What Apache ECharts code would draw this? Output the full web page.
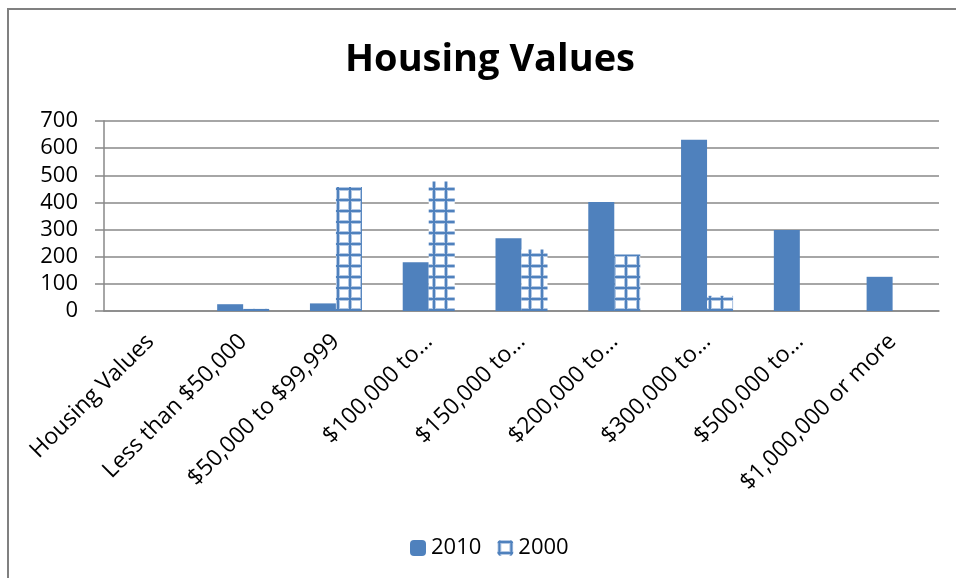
<!DOCTYPE html>
<html>
  <head>
    <meta charset="utf-8" />
    <script src="https://cdn.jsdelivr.net/npm/echarts@6.0.0/dist/echarts.min.js"></script>
  </head>
  <body style="margin: 0">
    <div id="main" style="width: 956px; height: 578px"></div>

    <script type="text/javascript">
      const categories = [
        "Housing Values",
        "Less than $50,000",
        "$50,000 to $99,999",
        "$100,000 to…",
        "$150,000 to…",
        "$200,000 to…",
        "$300,000 to…",
        "$500,000 to…",
        "$1,000,000 or more",
      ];
      const values2010 = [0, 25, 28, 180, 268, 402, 631, 298, 126];
      const values2000 = [0, 8, 457, 477, 227, 208, 56, 0, 0];
      const yTicks = [0, 100, 200, 300, 400, 500, 600, 700];

      const font = "Open Sans";
      const blue = "#4f81bd";

      // grid pattern for the 2000 bars
      function gridPattern() {
        const c = document.createElement("canvas");
        c.width = 12;
        c.height = 11;
        const ctx = c.getContext("2d");
        ctx.fillStyle = "#ffffff";
        ctx.fillRect(0, 0, 12, 11);
        ctx.fillStyle = "#b3c8e4";
        ctx.fillRect(0, 0, 4, 11);
        ctx.fillRect(0, 0, 12, 4);
        ctx.fillStyle = blue;
        ctx.fillRect(1, 0, 2, 11);
        ctx.fillRect(0, 1, 12, 2);
        return c;
      }

      const option = {
        backgroundColor: "#ffffff",
        animation: false,
        title: {
          text: "Housing Values",
          left: 485,
          textAlign: "center",
          top: 36,
          textStyle: {
            fontFamily: font,
            fontSize: 38,
            fontWeight: "bold",
            color: "#000",
          },
        },
        graphic: [
          {
            type: "rect",
            shape: { x: 8, y: 9, width: 1000, height: 700 },
            style: { fill: "none", stroke: "#808080", lineWidth: 2 },
            silent: true,
          },
        ],
        legend: {
          data: ["2010", "2000"],
          top: 532,
          left: 405,
          itemWidth: 16,
          itemHeight: 16,
          itemGap: 16,
          textStyle: { fontFamily: font, fontSize: 22, color: "#000" },
        },
        grid: { left: 104, right: 17, top: 121, bottom: 267 },
        xAxis: {
          type: "category",
          data: categories,
          axisLine: { lineStyle: { color: "#888", width: 1.5 } },
          axisTick: { length: 7, lineStyle: { color: "#888", width: 1.5 } },
          axisLabel: {
            interval: 0,
            rotate: 45,
            margin: 27,
            fontFamily: font,
            fontSize: 23,
            color: "#000",
          },
        },
        yAxis: {
          type: "value",
          min: 0,
          max: 700,
          interval: 100,
          axisLine: { show: true, lineStyle: { color: "#888", width: 1.5 } },
          axisTick: { show: true, length: 9, lineStyle: { color: "#888", width: 1.5 } },
          splitLine: { lineStyle: { color: "#888", width: 1.5 } },
          axisLabel: {
            margin: 26,
            fontFamily: font,
            fontSize: 22,
            color: "#000",
            formatter: (v) => (yTicks.includes(v) ? String(v) : ""),
          },
        },
        series: [
          {
            name: "2010",
            type: "bar",
            data: values2010,
            barWidth: 26,
            barGap: "0%",
            itemStyle: { color: blue },
          },
          {
            name: "2000",
            type: "bar",
            data: values2000,
            barWidth: 26,
            itemStyle: { color: { image: gridPattern(), repeat: "repeat" } },
          },
        ],
      };

      const myChart = echarts.init(document.getElementById("main"));
      myChart.setOption(option);
    </script>
  </body>
</html>
